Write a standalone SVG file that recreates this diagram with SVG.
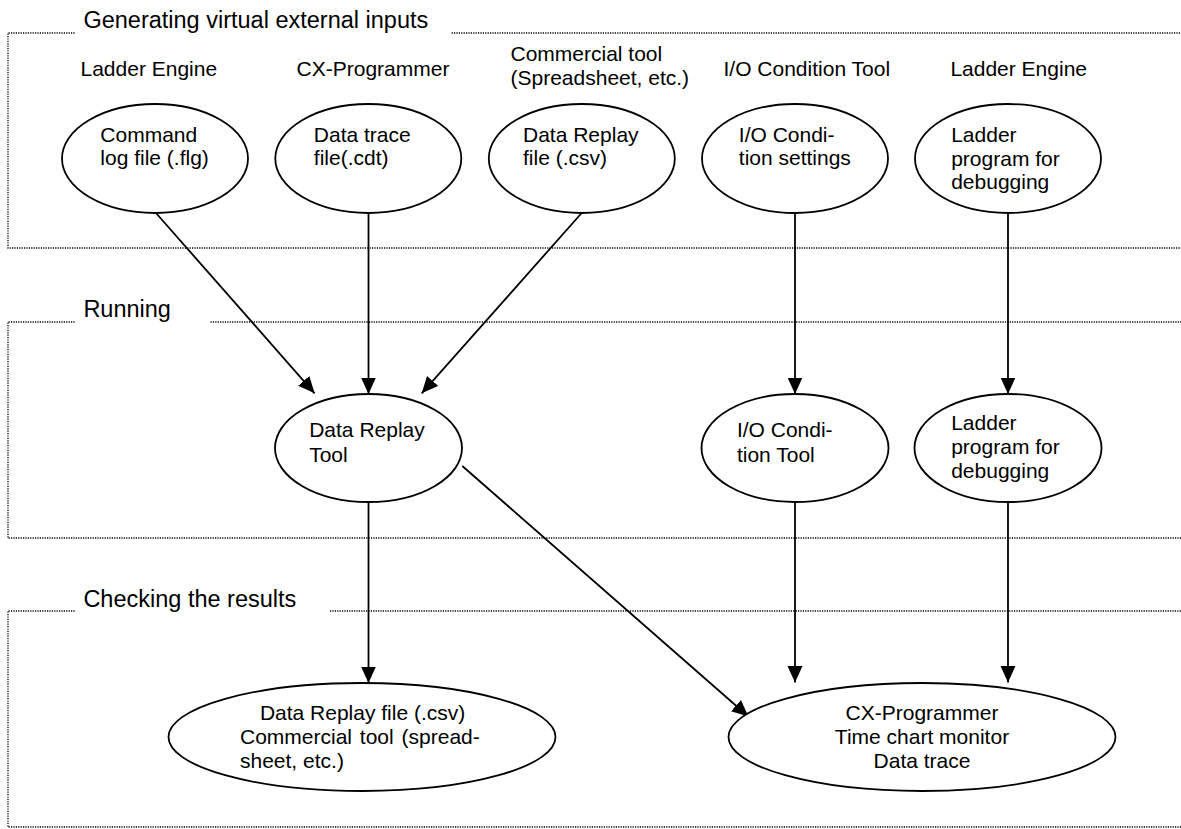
<svg xmlns="http://www.w3.org/2000/svg" width="1181" height="829" viewBox="0 0 1181 829">
<style>
.grp{fill:none;stroke:#000;stroke-width:1.3;stroke-dasharray:1.2 1.2}
.title{font-family:"Liberation Sans",Arial,sans-serif;font-size:23.5px;fill:#000}
.lbl{font-family:"Liberation Sans",Arial,sans-serif;font-size:21px;fill:#000}
.node ellipse{fill:#fff;stroke:#000;stroke-width:1.8}
.node text{font-family:"Liberation Sans",Arial,sans-serif;font-size:21px;fill:#000}
.conn line{stroke:#000;stroke-width:1.8;marker-end:url(#arr)}
</style>
<defs>
<marker id="arr" markerUnits="userSpaceOnUse" markerWidth="18" markerHeight="16" refX="16.5" refY="7.5" orient="auto">
<path d="M0,0 L16.5,7.5 L0,15 z" fill="#000"/>
</marker>
</defs>
<rect width="1181" height="829" fill="#fff"/>
<g id="groups">
<path class="grp" d="M74.6,33 H8 V248 H1181 M451.6,33 H1181"/>
<path class="grp" d="M74.6,322 H8 V538 H1181 M210.5,322 H1181"/>
<path class="grp" d="M74.6,611 H8 V827 H1181 M330,611 H1181"/>
<text class="title" x="83.4" y="28">Generating virtual external inputs</text>
<text class="title" x="83.4" y="317">Running</text>
<text class="title" x="83.4" y="606.5">Checking the results</text>
</g>
<g id="labels">
<text class="lbl" x="80.5" y="76">Ladder Engine</text>
<text class="lbl" x="296.6" y="76">CX-Programmer</text>
<text class="lbl" x="510.5" y="61">Commercial tool</text>
<text class="lbl" x="510.5" y="85">(Spreadsheet, etc.)</text>
<text class="lbl" x="723.5" y="76">I/O Condition Tool</text>
<text class="lbl" x="950.4" y="76">Ladder Engine</text>
</g>
<g id="connectors" class="conn">
<line x1="156" y1="213" x2="314.6" y2="393.3"/>
<line x1="368.5" y1="213" x2="368.5" y2="394"/>
<line x1="581.7" y1="213" x2="421.7" y2="393.3"/>
<line x1="795" y1="213" x2="795" y2="394"/>
<line x1="1008" y1="213" x2="1008" y2="394"/>
<line x1="368.5" y1="502" x2="368.5" y2="683"/>
<line x1="462.3" y1="466" x2="748.4" y2="716.5"/>
<line x1="795" y1="502" x2="795" y2="682.5"/>
<line x1="1008" y1="502" x2="1008" y2="682.5"/>
</g>
<g id="n-cmdlog" class="node">
<ellipse cx="155" cy="158.5" rx="93" ry="54.5"/>
<text x="100.3" y="141.7">Command</text>
<text x="100.3" y="165.3">log file (.flg)</text>
</g>
<g id="n-datatrace" class="node">
<ellipse cx="368.3" cy="158.5" rx="93" ry="54.5"/>
<text x="313.8" y="141.7">Data trace</text>
<text x="313.8" y="165.3">file(.cdt)</text>
</g>
<g id="n-replayfile" class="node">
<ellipse cx="581.8" cy="158.5" rx="93" ry="54.5"/>
<text x="523" y="141.7">Data Replay</text>
<text x="523" y="165.3">file (.csv)</text>
</g>
<g id="n-iosettings" class="node">
<ellipse cx="795" cy="158.5" rx="93" ry="54.5"/>
<text x="738.8" y="141.7">I/O Condi-</text>
<text x="738.8" y="165.3">tion settings</text>
</g>
<g id="n-ladder1" class="node">
<ellipse cx="1008" cy="158.5" rx="93" ry="54.5"/>
<text x="951.2" y="141.7">Ladder</text>
<text x="951.2" y="165.5">program for</text>
<text x="951.2" y="189.3">debugging</text>
</g>
<g id="n-replaytool" class="node">
<ellipse cx="368.5" cy="448" rx="93.5" ry="54"/>
<text x="309.2" y="436.7">Data Replay</text>
<text x="309.2" y="461.5">Tool</text>
</g>
<g id="n-iotool" class="node">
<ellipse cx="795" cy="448" rx="93.5" ry="54"/>
<text x="736.9" y="436.7">I/O Condi-</text>
<text x="736.9" y="461.5">tion Tool</text>
</g>
<g id="n-ladder2" class="node">
<ellipse cx="1008" cy="448" rx="93.5" ry="54"/>
<text x="951.2" y="430">Ladder</text>
<text x="951.2" y="454">program for</text>
<text x="951.2" y="478.3">debugging</text>
</g>
<g id="n-replayresult" class="node">
<ellipse cx="362" cy="737" rx="193.5" ry="54"/>
<text x="362.6" y="720" text-anchor="middle">Data Replay file (.csv)</text>
<text x="240" y="743.5" word-spacing="2">Commercial tool (spread-</text>
<text x="240" y="767.7">sheet, etc.)</text>
</g>
<g id="n-cxprog" class="node">
<ellipse cx="922" cy="737" rx="193.5" ry="54"/>
<text x="922" y="720" text-anchor="middle">CX-Programmer</text>
<text x="922" y="743.5" text-anchor="middle">Time chart monitor</text>
<text x="922" y="767.7" text-anchor="middle">Data trace</text>
</g>
</svg>
